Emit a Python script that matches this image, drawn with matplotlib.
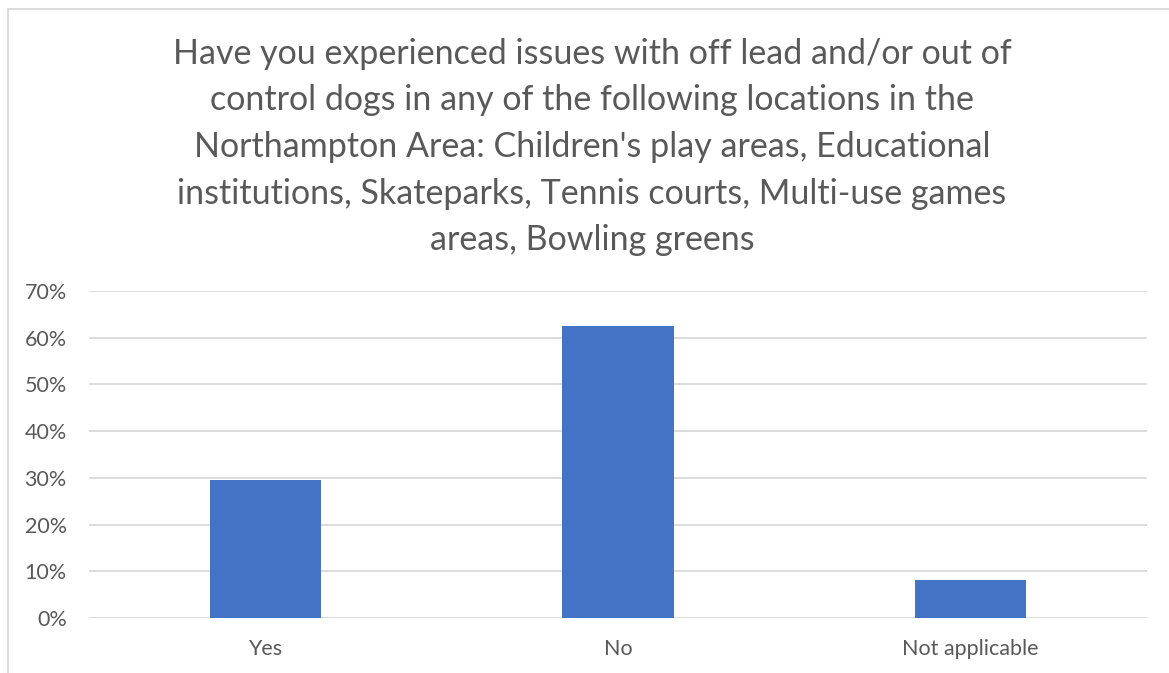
import matplotlib
matplotlib.use('Agg')
from matplotlib import pyplot as plt
from matplotlib.patches import Rectangle

categories = ['Yes', 'No', 'Not applicable']
values = [0.295, 0.625, 0.081]
yticks = [0, 0.1, 0.2, 0.3, 0.4, 0.5, 0.6, 0.7]
ytick_labels = ['0%', '10%', '20%', '30%', '40%', '50%', '60%', '70%']
title_lines = ["Have you experienced issues with off lead and/or out of",
               "control dogs in any of the following locations in the",
               "Northampton Area: Children's play areas, Educational",
               "institutions, Skateparks, Tennis courts, Multi-use games",
               "areas, Bowling greens"]

plt.rcParams['font.family'] = ['Lato', 'DejaVu Sans']
txt = '#595959'
grid = '#d9d9d9'

fig = plt.figure(figsize=(11.69, 6.73), dpi=100)
# outer chart border
fig.patches.append(Rectangle((8/1169, -0.01), 1.2, 1 - 9/673 + 0.01, transform=fig.transFigure,
                             fill=False, edgecolor=grid, lw=1.3))

ax = fig.add_axes([89/1169, 1 - 618/673, (1147 - 89)/1169, (618 - 291)/673])
x = range(len(categories))
ax.bar(x, values, width=0.315, color='#4472c4', zorder=3)
ax.set_xlim(-0.5, 2.5)
ax.set_ylim(0, 0.7)
ax.set_yticks(yticks)
ax.set_yticklabels(ytick_labels)
ax.set_xticks(list(x))
ax.set_xticklabels(categories)
ax.tick_params(axis='both', length=0, colors=txt, labelsize=15.5)
ax.tick_params(axis='y', pad=16)
ax.tick_params(axis='x', pad=15)
for s in ax.spines.values():
    s.set_visible(False)
ax.grid(axis='y', color=grid, lw=1.3, zorder=0)

fig.text(592/1169, 1 - 147/673, '\n'.join(title_lines), ha='center', va='center',
         fontsize=24.5, color=txt, linespacing=1.56)

fig.savefig('out.png', dpi=100)
